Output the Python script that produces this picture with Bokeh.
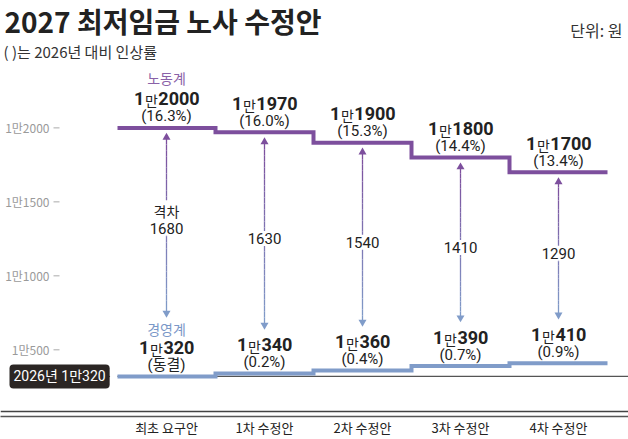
import numpy as np
from bokeh.plotting import figure
from bokeh.models import ColumnDataSource, Range1d, FixedTicker, Label, Span
from bokeh.core.properties import value
from bokeh.embed import file_html
from bokeh.resources import INLINE

# ---- data -------------------------------------------------------------
stages = ["최초 요구안", "1차 수정안", "2차 수정안", "3차 수정안", "4차 수정안"]
labor = [12000, 11970, 11900, 11800, 11700]
labor_pct = ["(16.3%)", "(16.0%)", "(15.3%)", "(14.4%)", "(13.4%)"]
mgmt = [10320, 10340, 10360, 10390, 10410]
mgmt_pct = ["(동결)", "(0.2%)", "(0.4%)", "(0.7%)", "(0.9%)"]
wage_2026 = 10320
y_ticks = [10500, 11000, 11500, 12000]
y_tick_labels = ["1만500", "1만1000", "1만1500", "1만2000"]

# ---- layout -----------------------------------------------------------
W, H = 628, 439
BOTTOM = 21
FH = H - BOTTOM          # frame height (frame spans the full width)
STAGE_PX = 98            # horizontal pixels per stage
FIRST_PX = 166           # canvas x of the first stage centre
UPP = 1500 / 223         # won per vertical pixel
TOP_VAL = 12000 + 128 * UPP


def px_x(px):
    """canvas x (pixels) -> data x"""
    return (px - FIRST_PX) / STAGE_PX


x_start, x_end = px_x(0), px_x(W)
y_end = TOP_VAL
y_start = TOP_VAL - FH * UPP

PURPLE = "#7d4f9d"
BLUE = "#809cc9"
INK = "#222222"
KR = "Noto Sans CJK KR"
NUM = "Roboto, 'Noto Sans CJK KR', sans-serif"

p = figure(width=W, height=H, x_range=Range1d(x_start, x_end),
           y_range=Range1d(y_start, y_end), output_backend="svg",
           toolbar_location=None, y_axis_location=None,
           min_border_left=0, min_border_right=0,
           min_border_top=0, min_border_bottom=BOTTOM)
p.outline_line_color = None
p.grid.visible = False
p.background_fill_color = "white"
p.border_fill_color = "white"

idx = list(range(len(stages)))
p.xaxis.ticker = FixedTicker(ticks=idx)
p.xaxis.major_label_overrides = {i: s for i, s in zip(idx, stages)}
p.xaxis.axis_line_color = "#555555"
p.xaxis.axis_line_width = 1.5
p.xaxis.major_tick_out = 0
p.xaxis.major_tick_in = 0
p.xaxis.minor_tick_out = 0
p.xaxis.minor_tick_in = 0
p.xaxis.major_label_text_color = INK
p.xaxis.major_label_text_font = KR
p.xaxis.major_label_text_font_size = "13px"
p.xaxis.major_label_standoff = 1

# bottom rule along the category axis
rule_y = y_start + 5 * UPP
p.line(x=[x_start, x_end], y=[rule_y, rule_y], line_color="#444444",
       line_width=1.5)

# value scale labels with small dashes
p.text(x=[px_x(49)] * len(y_ticks), y=y_ticks, text=y_tick_labels,
       text_font=value(KR), text_font_size="12px", text_color="#9a9a9a",
       text_align="right", text_baseline="middle")
p.segment(x0=[px_x(53)] * len(y_ticks), y0=y_ticks,
          x1=[px_x(59)] * len(y_ticks), y1=y_ticks,
          line_color="#aaaaaa", line_width=1)


def step_path(vals):
    xs, ys = [], []
    for i, v in enumerate(vals):
        xs += [i - 0.5, i + 0.5]
        ys += [v, v]
    return xs, ys


# 2026 reference level
p.segment(x0=[-0.5], y0=[wage_2026], x1=[x_end], y1=[wage_2026],
          line_color="#555555", line_width=1.2)

lx, ly = step_path(labor)
p.line(lx, ly, line_color=PURPLE, line_width=4, line_join="miter")
mx, my = step_path(mgmt)
p.line(mx, my, line_color=BLUE, line_width=4, line_join="miter")

# gap arrows with a purple-to-blue fade
c0 = np.array([125, 79, 157])
c1 = np.array([128, 156, 201])
NSEG = 30
seg = dict(x0=[], y0=[], x1=[], y1=[], color=[])
tops, bots, mids = [], [], []
for i in idx:
    top = labor[i] - 5 * UPP
    bot = mgmt[i] + (59 if i == 0 else 44) * UPP
    tops.append(top)
    bots.append(bot)
    mids.append((top + bot) / 2)
    ys = np.linspace(top - 6 * UPP, bot + 6 * UPP, NSEG + 1)
    for k in range(NSEG):
        f = (k + 0.5) / NSEG
        c = (c0 + (c1 - c0) * f).astype(int)
        seg["x0"].append(i); seg["x1"].append(i)
        seg["y0"].append(ys[k]); seg["y1"].append(ys[k + 1])
        seg["color"].append("#%02x%02x%02x" % tuple(c))
p.segment(x0="x0", y0="y0", x1="x1", y1="y1", line_color="color",
          line_width=1.3, source=ColumnDataSource(seg))
p.scatter(x=idx, y=[t - 4.6 * UPP for t in tops], marker="triangle",
          size=8, fill_color=PURPLE, line_color=None)
p.scatter(x=idx, y=[b + 4.6 * UPP for b in bots], marker="inverted_triangle",
          size=8, fill_color=BLUE, line_color=None)

gaps = [a - b for a, b in zip(labor, mgmt)]
gap_src = ColumnDataSource(dict(x=idx, y=mids, t=[str(g) for g in gaps],
                                off=[3] + [5] * (len(idx) - 1)))
p.text(x="x", y="y", text="t", y_offset="off", source=gap_src,
       text_font=value(NUM), text_font_size="15px", text_color=INK,
       text_align="center", text_baseline="middle",
       background_fill_color="white", padding=2)
p.text(x=[0], y=[mids[0]], text=["격차"], y_offset=-14,
       text_font=value(KR), text_font_size="14px", text_color=INK,
       text_align="center", text_baseline="middle",
       background_fill_color="white", padding=1)


def value_labels(vals, pcts):
    D, M = 0.5615 * 18, 14.0
    xs, ys, one_off, man_off, dig_off, digits = [], [], [], [], [], []
    for i, v in enumerate(vals):
        d = str(v % 10000)
        total = D + M + D * len(d)
        left = -total / 2
        xs.append(i); ys.append(v)
        one_off.append(left + D)
        man_off.append(left + D + M / 2)
        dig_off.append(left + D + M)
        digits.append(d)
    src = ColumnDataSource(dict(x=xs, y=ys, one_off=one_off, man_off=man_off,
                                dig_off=dig_off, digits=digits,
                                one=[str(v // 10000) for v in vals],
                                man=["만"] * len(vals), pct=pcts))
    p.text(x="x", y="y", text="one", x_offset="one_off", y_offset=-29,
           source=src, text_font=value(NUM), text_font_size="18px",
           text_font_style="bold", text_color=INK, text_align="right",
           text_baseline="middle")
    p.text(x="x", y="y", text="man", x_offset="man_off", y_offset=-27.5,
           source=src, text_font=value(KR), text_font_size="14px",
           text_color=INK, text_align="center", text_baseline="middle")
    p.text(x="x", y="y", text="digits", x_offset="dig_off", y_offset=-29,
           source=src, text_font=value(NUM), text_font_size="18px",
           text_font_style="bold", text_color=INK, text_align="left",
           text_baseline="middle")
    p.text(x="x", y="y", text="pct", y_offset=-11.5,
           source=src, text_font=value(NUM), text_font_size="15px",
           text_color=INK, text_align="center", text_baseline="middle")


value_labels(labor, labor_pct)
value_labels(mgmt, mgmt_pct)

p.text(x=[0], y=[labor[0]], text=["노동계"], y_offset=-49.5,
       text_font=value(KR), text_font_size="14px", text_color="#8a62a8",
       text_align="center", text_baseline="middle")
p.text(x=[0], y=[mgmt[0]], text=["경영계"], y_offset=-47,
       text_font=value(KR), text_font_size="14px", text_color="#7b98c8",
       text_align="center", text_baseline="middle")

# 2026 tag with pointer
p.scatter(x=[px_x(104)], y=[wage_2026], marker="triangle",
          angle=-np.pi / 2, size=10, fill_color="#2b2624", line_color=None)
p.add_layout(Label(x=9, y=wage_2026, x_units="screen", y_units="data",
                   text="2026년 1만320", text_font=NUM, text_font_size="14px",
                   text_color="white", text_align="left",
                   text_baseline="middle", background_fill_color="#2b2624",
                   padding=4, border_radius=4))

# headings
p.add_layout(Label(x=4, y=FH - 22, x_units="screen", y_units="screen",
                   text="2027 최저임금 노사 수정안", text_font=KR,
                   text_font_size="28px", text_font_style="bold",
                   text_color=INK, text_baseline="middle"))
p.add_layout(Label(x=3, y=FH - 53, x_units="screen", y_units="screen",
                   text="( )는 2026년 대비 인상률", text_font=KR,
                   text_font_size="15px", text_color="#333333",
                   text_baseline="middle"))
p.add_layout(Label(x=622, y=FH - 31, x_units="screen", y_units="screen",
                   text="단위: 원", text_font=KR, text_font_size="16px",
                   text_color="#333333", text_align="right",
                   text_baseline="middle"))

open("out.html", "w").write(file_html(p, INLINE))
